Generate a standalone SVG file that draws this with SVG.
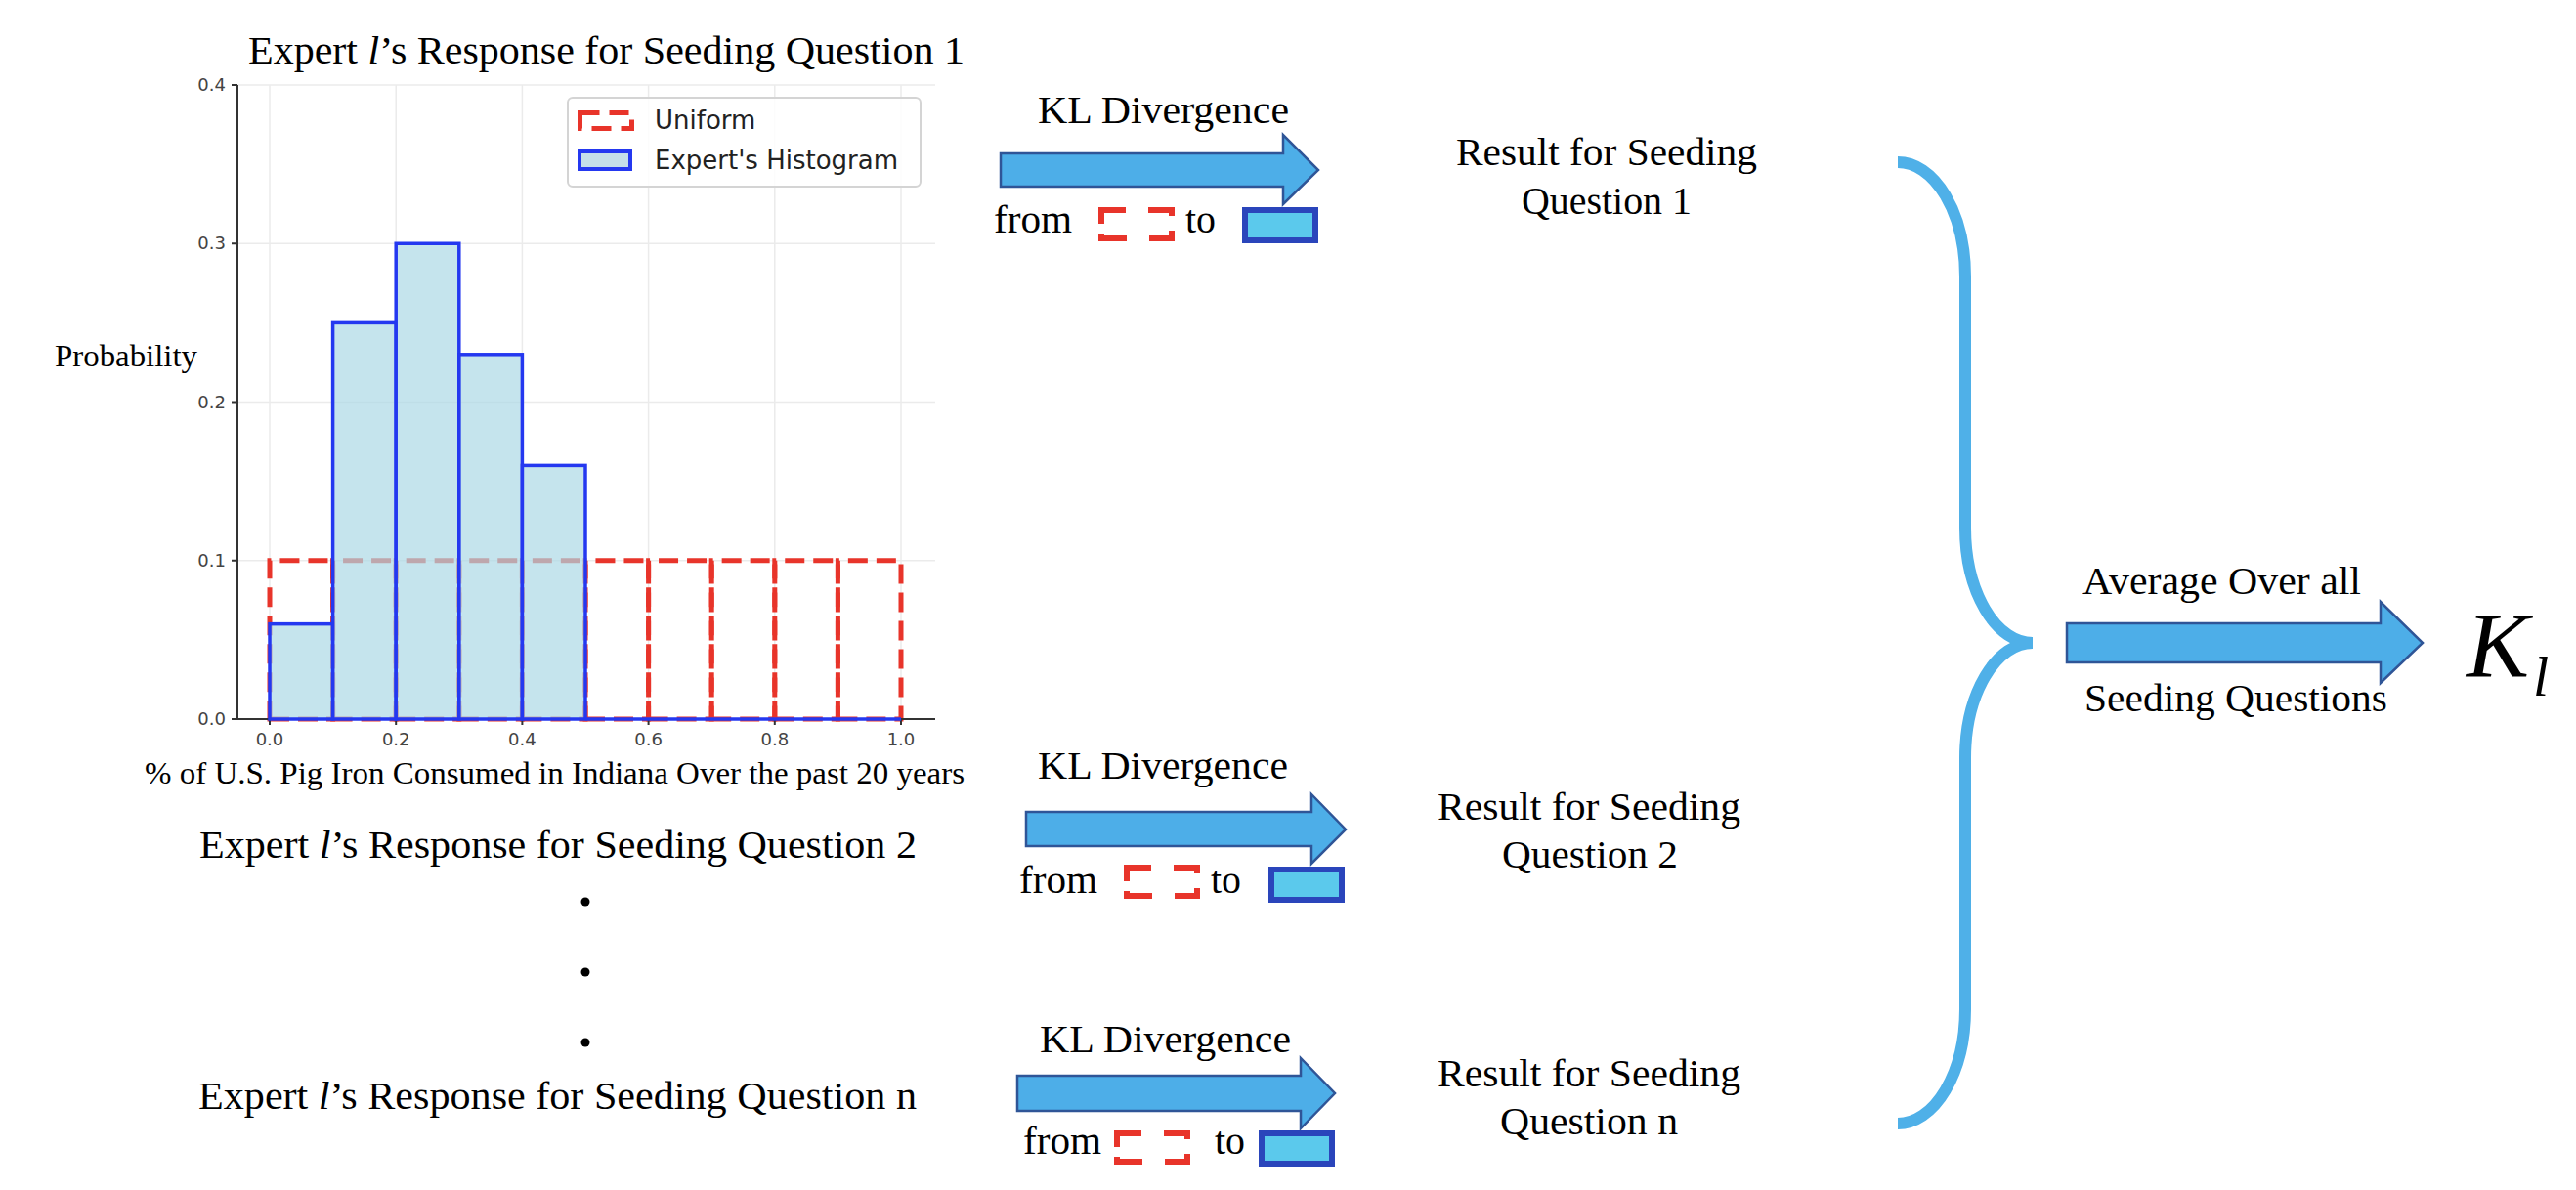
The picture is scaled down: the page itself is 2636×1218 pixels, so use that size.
<svg xmlns="http://www.w3.org/2000/svg" xmlns:xlink="http://www.w3.org/1999/xlink" width="2636" height="1218" viewBox="0 0 2636 1218">
<style>
.serif{font-family:"Liberation Serif","Times New Roman",serif;fill:#000}
.lbl{font-size:41px}
.tick{font-family:"DejaVu Sans","Liberation Sans",sans-serif;font-size:18px;fill:#444}
.leg{font-family:"DejaVu Sans","Liberation Sans",sans-serif;font-size:26px;fill:#222}
.grid{stroke:#ebebeb;stroke-width:1.5;fill:none}
.spine{stroke:#333;stroke-width:2;fill:none}
.uni{fill:none;stroke:#e8342a;stroke-width:5;stroke-dasharray:20 9}
.hist{fill:#add8e6;fill-opacity:0.7;stroke:#2438f0;stroke-width:3.5}
.arrow{fill:#4daee8;stroke:#2f5597;stroke-width:2.5;stroke-linejoin:miter}
.brace{fill:none;stroke:#4fb0e8;stroke-width:12;stroke-linecap:butt}
.rdash{fill:none;stroke:#e8342a;stroke-width:6;stroke-linecap:butt;stroke-linejoin:miter}
.bbox{fill:#5bc9ec;stroke:#2a45bb;stroke-width:6}
</style>
<defs>
<g id="redbox">
<path class="rdash" d="M3,17 V3 H28 M51,3 H75 V9 M75,24 V32 H52 M29,32 H3 V27"/>
</g>
<g id="bluebox">
<rect class="bbox" x="3" y="3" width="72" height="31"/>
</g>
</defs>
<rect width="2636" height="1218" fill="#fff"/>

<g id="chart">
<g id="grid">
<path class="grid" d="M276,87 V736 M405.2,87 V736 M534.4,87 V736 M663.6,87 V736 M792.8,87 V736 M922,87 V736"/>
<path class="grid" d="M243,87 H957 M243,249.25 H957 M243,411.5 H957 M243,573.75 H957"/>
</g>
<g id="uniform">
<path class="uni" d="M276,736 H340.6 V573.75 H276 Z"/>
<path class="uni" d="M340.6,736 H405.2 V573.75 H340.6 Z"/>
<path class="uni" d="M405.2,736 H469.8 V573.75 H405.2 Z"/>
<path class="uni" d="M469.8,736 H534.4 V573.75 H469.8 Z"/>
<path class="uni" d="M534.4,736 H599 V573.75 H534.4 Z"/>
<path class="uni" d="M599,736 H663.6 V573.75 H599 Z"/>
<path class="uni" d="M663.6,736 H728.2 V573.75 H663.6 Z"/>
<path class="uni" d="M728.2,736 H792.8 V573.75 H728.2 Z"/>
<path class="uni" d="M792.8,736 H857.4 V573.75 H792.8 Z"/>
<path class="uni" d="M857.4,736 H922 V573.75 H857.4 Z"/>
</g>
<g id="spines">
<path class="spine" d="M243,87 V736 H957"/>
<path class="spine" d="M237,87 H243 M237,249.25 H243 M237,411.5 H243 M237,573.75 H243 M237,736 H243"/>
<path class="spine" d="M276,736 V742 M405.2,736 V742 M534.4,736 V742 M663.6,736 V742 M792.8,736 V742 M922,736 V742"/>
</g>
<g id="histogram">
<rect class="hist" x="276" y="638.65" width="64.6" height="97.35"/>
<rect class="hist" x="340.6" y="330.4" width="64.6" height="405.6"/>
<rect class="hist" x="405.2" y="249.25" width="64.6" height="486.75"/>
<rect class="hist" x="469.8" y="362.8" width="64.6" height="373.2"/>
<rect class="hist" x="534.4" y="476.4" width="64.6" height="259.6"/>
<path d="M599,736 H922" stroke="#2438f0" stroke-width="3.5"/>
</g>
<g id="yticks" text-anchor="end">
<text class="tick" x="231" y="93">0.4</text>
<text class="tick" x="231" y="255">0.3</text>
<text class="tick" x="231" y="418">0.2</text>
<text class="tick" x="231" y="580">0.1</text>
<text class="tick" x="231" y="742">0.0</text>
</g>
<g id="xticks" text-anchor="middle">
<text class="tick" x="276" y="763">0.0</text>
<text class="tick" x="405.2" y="763">0.2</text>
<text class="tick" x="534.4" y="763">0.4</text>
<text class="tick" x="663.6" y="763">0.6</text>
<text class="tick" x="792.8" y="763">0.8</text>
<text class="tick" x="922" y="763">1.0</text>
</g>
<g id="legend">
<rect x="581" y="100" width="361" height="91" rx="5" fill="#fff" fill-opacity="0.85" stroke="#d4d4d4" stroke-width="2"/>
<rect x="593.5" y="115.5" width="53" height="16" fill="none" stroke="#e8342a" stroke-width="5" stroke-dasharray="20 10"/>
<text class="leg" x="670" y="132">Uniform</text>
<rect x="593" y="155" width="52" height="18" fill="#c5dfe9" stroke="#2438f0" stroke-width="4"/>
<text class="leg" x="670" y="173">Expert's Histogram</text>
</g>
<text class="serif" x="56" y="375" font-size="32" textLength="146" lengthAdjust="spacingAndGlyphs">Probability</text>
<text class="serif" x="148" y="802" font-size="31" textLength="839" lengthAdjust="spacingAndGlyphs">% of U.S. Pig Iron Consumed in Indiana Over the past 20 years</text>
</g>

<g id="title1">
<text class="serif" x="254" y="65" font-size="41" textLength="733" lengthAdjust="spacingAndGlyphs">Expert <tspan font-style="italic">l</tspan>’s Response for Seeding Question 1</text>
</g>
<g id="title2">
<text class="serif" x="204" y="878" font-size="41" textLength="734" lengthAdjust="spacingAndGlyphs">Expert <tspan font-style="italic">l</tspan>’s Response for Seeding Question 2</text>
</g>
<g id="dots">
<circle cx="599" cy="923" r="4.5" fill="#000"/>
<circle cx="599" cy="995" r="4.5" fill="#000"/>
<circle cx="599" cy="1067" r="4.5" fill="#000"/>
</g>
<g id="titleN">
<text class="serif" x="203" y="1135" font-size="41" textLength="735" lengthAdjust="spacingAndGlyphs">Expert <tspan font-style="italic">l</tspan>’s Response for Seeding Question n</text>
</g>

<g id="kl1">
<text class="serif lbl" x="1062" y="126" textLength="257" lengthAdjust="spacingAndGlyphs">KL Divergence</text>
<text class="serif lbl" x="1017" y="238" textLength="80" lengthAdjust="spacingAndGlyphs">from</text>
<use xlink:href="#redbox" href="#redbox" x="1124" y="212"/>
<text class="serif lbl" x="1213" y="238" textLength="31" lengthAdjust="spacingAndGlyphs">to</text>
<use xlink:href="#bluebox" href="#bluebox" x="1271" y="212"/>
</g>
<g id="kl2">
<text class="serif lbl" x="1062" y="797" textLength="256" lengthAdjust="spacingAndGlyphs">KL Divergence</text>
<text class="serif lbl" x="1043" y="914" textLength="80" lengthAdjust="spacingAndGlyphs">from</text>
<use xlink:href="#redbox" href="#redbox" x="1150" y="885"/>
<text class="serif lbl" x="1239" y="914" textLength="31" lengthAdjust="spacingAndGlyphs">to</text>
<use xlink:href="#bluebox" href="#bluebox" x="1298" y="887"/>
</g>
<g id="kl3">
<text class="serif lbl" x="1064" y="1077" textLength="257" lengthAdjust="spacingAndGlyphs">KL Divergence</text>
<text class="serif lbl" x="1047" y="1181" textLength="80" lengthAdjust="spacingAndGlyphs">from</text>
<use xlink:href="#redbox" href="#redbox" x="1140" y="1157"/>
<text class="serif lbl" x="1243" y="1181" textLength="31" lengthAdjust="spacingAndGlyphs">to</text>
<use xlink:href="#bluebox" href="#bluebox" x="1288" y="1157"/>
</g>

<g id="result1" text-anchor="middle">
<text class="serif lbl" x="1644" y="169" textLength="308" lengthAdjust="spacingAndGlyphs">Result for Seeding</text>
<text class="serif lbl" x="1644" y="219" textLength="174" lengthAdjust="spacingAndGlyphs">Question 1</text>
</g>
<g id="result2" text-anchor="middle">
<text class="serif lbl" x="1626" y="839" textLength="310" lengthAdjust="spacingAndGlyphs">Result for Seeding</text>
<text class="serif lbl" x="1627" y="888" textLength="180" lengthAdjust="spacingAndGlyphs">Question 2</text>
</g>
<g id="result3" text-anchor="middle">
<text class="serif lbl" x="1626" y="1112" textLength="310" lengthAdjust="spacingAndGlyphs">Result for Seeding</text>
<text class="serif lbl" x="1626" y="1161" textLength="182" lengthAdjust="spacingAndGlyphs">Question n</text>
</g>

<g id="average">
<text class="serif lbl" x="2131" y="608" textLength="285" lengthAdjust="spacingAndGlyphs">Average Over all</text>
<text class="serif lbl" x="2133" y="728" textLength="310" lengthAdjust="spacingAndGlyphs">Seeding Questions</text>
</g>
<g id="Kl">
<text class="serif" x="2524" y="693" font-size="96" font-style="italic">K</text>
<text class="serif" x="2592" y="712" font-size="58" font-style="italic">l</text>
</g>

<g id="connectors">
<path class="arrow" d="M1024,157 H1313 V138 L1349,174 L1313,209 V191 H1024 Z"/>
<path class="arrow" d="M1050,831 H1342 V813 L1377,849 L1342,884 V866 H1050 Z"/>
<path class="arrow" d="M1041,1101 H1331 V1083 L1366,1119 L1331,1155 V1137 H1041 Z"/>
<path class="brace" d="M1942,166 A69,117 0 0 1 2011,283 V540 A69,118 0 0 0 2080,658 M2080,658 A69,118 0 0 0 2011,776 V1033 A69,117 0 0 1 1942,1150"/>
<path class="arrow" d="M2115,638 H2436 V616 L2479,658 L2436,699 V678 H2115 Z"/>
</g>
</svg>
